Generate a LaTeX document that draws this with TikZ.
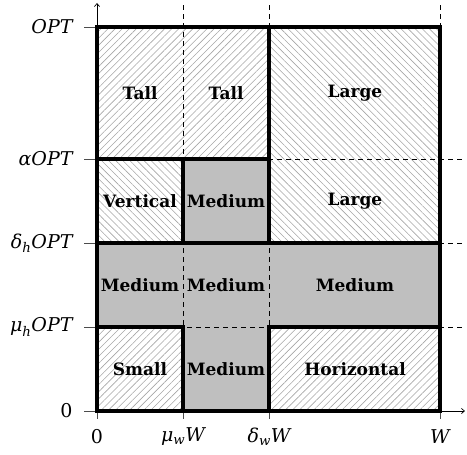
\documentclass[tikz,border=0pt]{standalone}
\usepackage{fontspec}
\setmainfont{DejaVu Serif}
\usetikzlibrary{patterns.meta,arrows.meta}
\newcommand{\sbx}[1]{\textsubscript{\itshape #1}}
\tikzset{
  hatchA/.style={pattern={Lines[angle=45,distance=5pt,line width=0.6pt]},pattern color=black!35},
  hatchB/.style={pattern={Lines[angle=-45,distance=5pt,line width=0.6pt]},pattern color=black!35},
  grayfill/.style={fill=black!25},
  guide/.style={dash pattern=on 5pt off 4pt,line width=0.8pt},
  thickb/.style={line width=3.2pt,line cap=rect},
  lab/.style={font=\fontsize{17}{20}\selectfont\bfseries},
  axl/.style={font=\fontsize{19}{22}\selectfont\itshape},
  tick/.style={line width=0.8pt,black!70}
}
\begin{document}
\begin{tikzpicture}[x=1pt,y=-1pt]
\useasboundingbox (0,0) rectangle (467,455);
% fills
\fill[hatchA] (97,27) rectangle (269,159);
\fill[hatchB] (269,27) rectangle (440,243);
\fill[hatchB] (97,159) rectangle (183,243);
\fill[grayfill] (183,159) rectangle (269,243);
\fill[grayfill] (97,243) rectangle (440,327);
\fill[hatchA] (97,327) rectangle (183,411);
\fill[grayfill] (183,327) rectangle (269,411);
\fill[hatchA] (269,327) rectangle (440,411);
% coordinates
\coordinate (yb) at (97,411); \coordinate (yt) at (97,3);
\coordinate (xl) at (97,411); \coordinate (xr) at (465,411);
\coordinate (v1t) at (183,5); \coordinate (v1b) at (183,411);
\coordinate (v2t) at (269,5); \coordinate (v2b) at (269,411);
\coordinate (v3t) at (440,5); \coordinate (v3b) at (440,27);
\coordinate (h1l) at (97,159); \coordinate (h1r) at (462,159);
\coordinate (h2l) at (97,243); \coordinate (h2r) at (462,243);
\coordinate (h3l) at (97,327); \coordinate (h3r) at (462,327);
% guides
\draw[guide] (v1t) -- (v1b);
\draw[guide] (v2t) -- (v2b);
\draw[guide] (v3t) -- (v3b);
\draw[guide] (h1l) -- (h1r);
\draw[guide] (h2l) -- (h2r);
\draw[guide] (h3l) -- (h3r);
% axes
\draw[line width=0.7pt,-{Straight Barb[length=3pt,width=5pt]}] (yb) -- (yt);
\draw[line width=0.7pt,-{Straight Barb[length=3pt,width=5pt]}] (xl) -- (xr);
% ticks
\coordinate (t0a) at (84,27); \coordinate (t0b) at (97,27);
\coordinate (t1a) at (84,159); \coordinate (t1b) at (97,159);
\coordinate (t2a) at (84,243); \coordinate (t2b) at (97,243);
\coordinate (t3a) at (84,327); \coordinate (t3b) at (97,327);
\coordinate (t4a) at (84,411); \coordinate (t4b) at (97,411);
\foreach \i in {0,...,4} {\draw[tick] (t\i a) -- (t\i b);}
\coordinate (b0a) at (97,411); \coordinate (b0b) at (97,419);
\coordinate (b1a) at (183,411); \coordinate (b1b) at (183,419);
\coordinate (b2a) at (269,411); \coordinate (b2b) at (269,419);
\coordinate (b3a) at (440,411); \coordinate (b3b) at (440,419);
\foreach \i in {0,...,3} {\draw[tick] (b\i a) -- (b\i b);}
% thick borders
\draw[thickb] (97,27) rectangle (440,411);
\draw[thickb] (97,159) -- (269,159);
\draw[thickb] (269,27) -- (269,243);
\draw[thickb] (97,243) -- (440,243);
\draw[thickb] (183,159) -- (183,243);
\draw[thickb] (97,327) -- (183,327) -- (183,411);
\draw[thickb] (440,327) -- (269,327) -- (269,411);
% region labels
\node[lab] (tall1) at (140,93) {Tall};
\node[lab] (tall2) at (226,93) {Tall};
\node[lab] (large1) at (355,93) {Large};
\node[lab] (vert) at (140,201) {Vertical};
\node[lab] (med1) at (226,201) {Medium};
\node[lab] (large2) at (355,201) {Large};
\node[lab] (med2) at (140,285) {Medium};
\node[lab] (med3) at (226,285) {Medium};
\node[lab] (med4) at (355,285) {Medium};
\node[lab] (small) at (140,369) {Small};
\node[lab] (med5) at (226,369) {Medium};
\node[lab] (horiz) at (355,369) {Horizontal};
% axis labels
\node[axl,anchor=east] (lopt) at (76,27) {OPT};
\node[axl,anchor=east] (lalpha) at (76,159) {αOPT};
\node[axl,anchor=east] (ldelta) at (76,243) {δ\sbx{h}OPT};
\node[axl,anchor=east] (lmu) at (76,327) {μ\sbx{h}OPT};
\node[axl,anchor=east] (lzero) at (76,411) {\upshape 0};
\node[axl] (bzero) at (97,437) {\upshape 0};
\node[axl] (bmu) at (183,437) {μ\sbx{w}W};
\node[axl] (bdelta) at (269,437) {δ\sbx{w}W};
\node[axl] (bw) at (440,437) {W};
\end{tikzpicture}
\end{document}
